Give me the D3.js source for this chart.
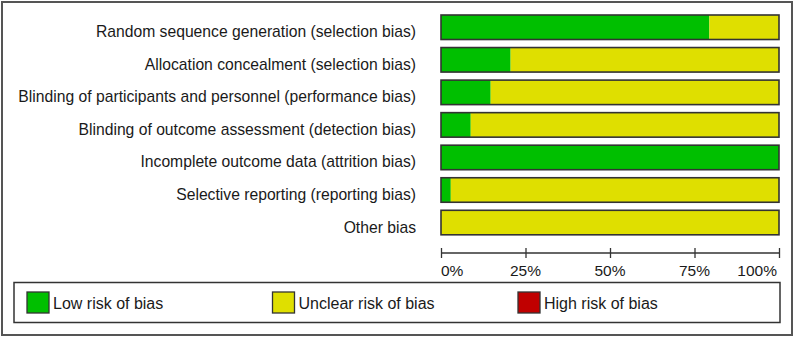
<!DOCTYPE html>
<html>
<head>
<meta charset="utf-8">
<script src="https://cdn.jsdelivr.net/npm/d3@7"></script>
<style>
  html, body { margin: 0; padding: 0; background: #fff; }
  svg { display: block; }
  text { font-family: "Liberation Sans", Arial, sans-serif; fill: #1a1a1a; }
</style>
</head>
<body>
<svg id="chart" width="795" height="338"></svg>
<script>
const categories = [
  "Random sequence generation (selection bias)",
  "Allocation concealment (selection bias)",
  "Blinding of participants and personnel (performance bias)",
  "Blinding of outcome assessment (detection bias)",
  "Incomplete outcome data (attrition bias)",
  "Selective reporting (reporting bias)",
  "Other bias"
];
const lowRisk     = [79.4, 20.6, 14.7, 8.8, 100, 2.9, 0];
const unclearRisk = [20.6, 79.4, 85.3, 91.2, 0, 97.1, 100];
const highRisk    = [0, 0, 0, 0, 0, 0, 0];
const seriesNames = ["Low risk of bias", "Unclear risk of bias", "High risk of bias"];
const seriesKeys  = ["low", "unclear", "high"];
const seriesColors = ["#00BF00", "#DFDF00", "#C00000"];
const tickValues = [0, 25, 50, 75, 100];
const tickLabels = ["0%", "25%", "50%", "75%", "100%"];

const svg = d3.select("#chart");

// outer frame
svg.append("rect")
  .attr("x", 2).attr("y", 2).attr("width", 790).attr("height", 333)
  .attr("fill", "#fff").attr("stroke", "#555").attr("stroke-width", 2);

const x = d3.scaleLinear().domain([0, 100]).range([441, 779]);
const y = d3.scaleBand().domain(categories).range([15, 234.8]).paddingInner(0.247).paddingOuter(0);

const rows = categories.map((c, i) => ({ cat: c, low: lowRisk[i], unclear: unclearRisk[i], high: highRisk[i] }));
const stacked = d3.stack().keys(seriesKeys)(rows);
const color = d3.scaleOrdinal().domain(seriesKeys).range(seriesColors);

const g = svg.append("g");
stacked.forEach(layer => {
  g.selectAll(null).data(layer.filter(d => d[1] - d[0] > 0)).enter().append("rect")
    .attr("x", d => x(d[0]))
    .attr("y", d => y(d.data.cat))
    .attr("width", d => x(d[1]) - x(d[0]))
    .attr("height", y.bandwidth())
    .attr("fill", color(layer.key));
});
// bar outlines
g.selectAll(null).data(categories).enter().append("rect")
  .attr("x", x(0)).attr("y", d => y(d))
  .attr("width", x(100) - x(0)).attr("height", y.bandwidth())
  .attr("fill", "none").attr("stroke", "#333").attr("stroke-width", 1.6);

// category labels
svg.selectAll(null).data(categories).enter().append("text")
  .attr("x", 416)
  .attr("y", d => y(d) + y.bandwidth() / 2 + 10)
  .attr("text-anchor", "end")
  .style("font-size", "15.7px")
  .text(d => d);

// axis
const axisY = 253;
const axis = d3.axisBottom(x).tickValues(tickValues).tickSize(0).tickFormat("");
const ag = svg.append("g").attr("transform", `translate(0,${axisY})`).call(axis);
ag.select(".domain").attr("stroke", "#333").attr("stroke-width", 1.3).attr("d", `M${x(0)},0H${x(100)}`);
ag.selectAll(".tick").append("line")
  .attr("y1", -5).attr("y2", 5).attr("stroke", "#333").attr("stroke-width", 1.3);
svg.selectAll(null).data(tickValues).enter().append("text")
  .attr("x", (d, i) => x(d) + (i === tickValues.length - 1 ? -2 : 0))
  .attr("y", 276)
  .attr("text-anchor", (d, i) => i === 0 ? "start" : (i === tickValues.length - 1 ? "end" : "middle"))
  .style("font-size", "15.5px")
  .text((d, i) => tickLabels[i]);

// legend
svg.append("rect")
  .attr("x", 14).attr("y", 282.5).attr("width", 766).attr("height", 40)
  .attr("fill", "none").attr("stroke", "#333").attr("stroke-width", 1.5);
const legendX = d3.scalePoint().domain(seriesKeys).range([27, 518]);
const lg = svg.selectAll(null).data(seriesKeys).enter().append("g")
  .attr("transform", d => `translate(${legendX(d)},292)`);
lg.append("rect")
  .attr("width", 22).attr("height", 21)
  .attr("fill", d => color(d)).attr("stroke", "#333").attr("stroke-width", 1.3);
lg.append("text")
  .attr("x", 26).attr("y", 17)
  .style("font-size", "16px")
  .text((d, i) => seriesNames[i]);
</script>
</body>
</html>
